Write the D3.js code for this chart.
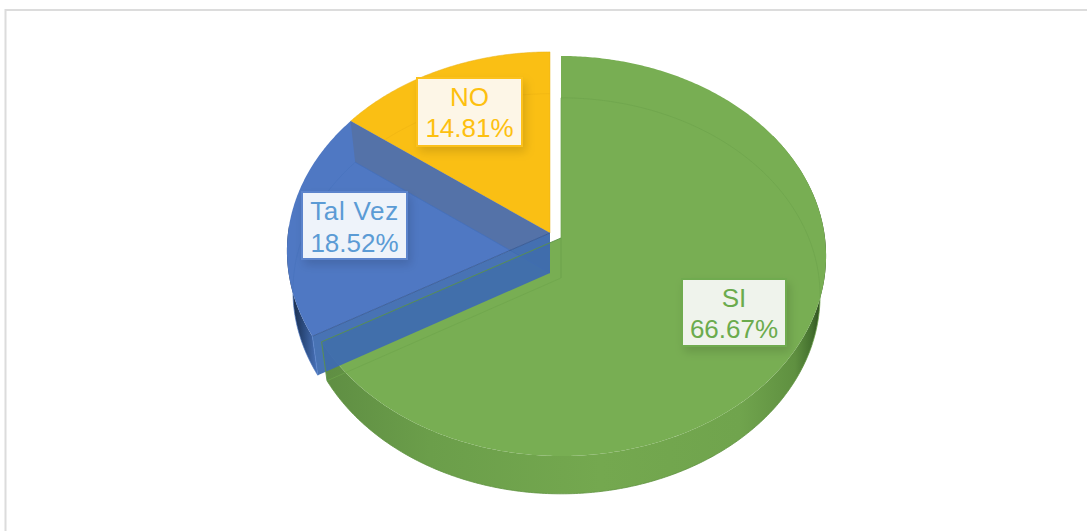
<!DOCTYPE html>
<html><head><meta charset="utf-8">
<script src="https://cdn.jsdelivr.net/npm/d3@7/dist/d3.min.js"></script>
<style>html,body{margin:0;padding:0;background:#fff}svg{display:block}text{font-family:"Liberation Sans",Arial,sans-serif}</style>
</head><body><div id="c"></div>
<script>
const categories = ["SI", "Tal Vez", "NO"];
const values = [66.67, 18.52, 14.81];
const colors = ["#78ae53", "#4f78c3", "#fabf14"];
const textColors = ["#6bab4d", "#5b9bd5", "#fdc010"];
const boxFills = ["#eff3ec", "#eef3fa", "#fdf6e7"];
const boxStrokes = ["#70ab50", "#5c84cc", "#fcc11f"];

const W = 1087, H = 531;
const svg = d3.select("#c").append("svg").attr("width", W).attr("height", H);
const defs = svg.append("defs");
const f = defs.append("filter").attr("id","sh").attr("x","-25%").attr("y","-25%").attr("width","150%").attr("height","160%");
f.append("feDropShadow").attr("dx",3).attr("dy",5).attr("stdDeviation",5).attr("flood-color","#000").attr("flood-opacity",0.13);

function grad(id, x1, x2, stops){
  const g = defs.append("linearGradient").attr("id",id).attr("gradientUnits","userSpaceOnUse")
    .attr("x1",x1).attr("x2",x2).attr("y1",0).attr("y2",0);
  stops.forEach(s=>g.append("stop").attr("offset",(s[0]-x1)/(x2-x1)).attr("stop-color",s[1]));
}
grad("gw",325,824,[[325,"#5f8e43"],[430,"#6b9e4a"],[600,"#74a84f"],[740,"#70a44d"],[795,"#5f9040"],[812,"#44702e"],[824,"#26401a"]]);
grad("bw",292,322,[[292,"#1a2c4a"],[304,"#2c4c80"],[318,"#4a74bd"]]);

// frame
svg.append("path").attr("d",`M5.5 ${H} V10 H${W}`).attr("fill","none").attr("stroke","#dcdcdc").attr("stroke-width",2);

// perspective projection of the pie disc
const k = -0.09;
const topFace = {d:264, b:198.4, dy:0};
const floorFace = {d:258, b:196.4, dy:40};
const topFaceX = {d:262, b:197.4, dy:0};
const floorFaceX = {d:256, b:195.4, dy:40};
const project = (a, face, o) => {
  const u = Math.sin(a), v = -Math.cos(a), q = 1 + k*v;
  return [o[0] + face.d*u/q, o[1] + face.dy + face.b*v/q];
};
const line = d3.line();
const arcPts = (a0, a1, face, o) => {
  const n = Math.max(2, Math.ceil(Math.abs(a1-a0)/0.01));
  return d3.range(n+1).map(i => project(a0+(a1-a0)*i/n, face, o));
};
const apex = (face,o) => [o[0], o[1]+face.dy];
const sector = (p, face, o) => line([apex(face,o), ...arcPts(p.startAngle,p.endAngle,face,o)]) + "Z";
const wall = (a0,a1,o,tf,ff) => line([...arcPts(a0,a1,tf,o), ...arcPts(a1,a0,ff,o)]) + "Z";
const radial = (a,o,tf,ff) => line([apex(tf,o), project(a,tf,o), project(a,ff,o), apex(ff,o)]) + "Z";
const stroke = (d,c,w) => svg.append("path").attr("d",d).attr("fill","none").attr("stroke",c).attr("stroke-width",w);

const pie = d3.pie().sort(null)(values);
const [si, tal, no] = pie;
const O0 = [561,238], O1 = [550,233];

// NO slice
svg.append("path").attr("d",sector(no,topFaceX,O1)).attr("fill",colors[2]).attr("stroke","#e6b018").attr("stroke-width",0.5);
stroke(line(arcPts(no.startAngle,no.endAngle,floorFaceX,O1)),"#efb512",0.7);
stroke(line([apex(floorFaceX,O1),project(no.startAngle,floorFaceX,O1)]),"#e8b014",0.5);

// SI slice
svg.append("path").attr("d",wall(1.0,si.endAngle,O0,topFace,floorFace)).attr("fill","url(#gw)");
svg.append("path").attr("d",sector(si,topFace,O0)).attr("fill",colors[0]);
stroke(line(arcPts(si.startAngle,1.9,floorFace,O0)),"#6ea44c",0.8);
stroke(line(arcPts(1.9,si.endAngle,floorFace,O0)),"#5f9340",0.8);
stroke(line([project(si.startAngle,floorFace,O0),apex(floorFace,O0),project(si.endAngle,floorFace,O0)]),"#6ea54c",0.7);
stroke(line([apex(topFace,O0),apex(floorFace,O0)]),"#70a74d",0.7);

// Tal Vez slice
svg.append("path").attr("d",wall(tal.startAngle,4.75,O1,topFaceX,floorFaceX)).attr("fill","url(#bw)");
svg.append("path").attr("d",sector(tal,topFaceX,O1)).attr("fill",colors[1]);
svg.append("path").attr("d",radial(no.startAngle,O1,topFaceX,floorFaceX)).attr("fill","#5a6a88").attr("fill-opacity",0.45);
stroke(line(arcPts(tal.startAngle,tal.endAngle,floorFaceX,O1)),"#4873bd",0.7);
stroke(line([project(tal.endAngle,floorFaceX,O1),apex(floorFaceX,O1)]),"#4470bb",0.8);
svg.append("path").attr("d",radial(tal.startAngle,O1,topFaceX,floorFaceX)).attr("fill","#3e6cb0").attr("fill-opacity",0.95);
stroke(line([project(tal.startAngle,topFaceX,O1),apex(topFaceX,O1)]),"#34568f",0.8);
stroke(line([project(tal.startAngle,topFaceX,O1),project(tal.startAngle,floorFaceX,O1)]),"#5b84cc",0.8);

// SI front edge seen through the blue wall
stroke(line([apex(topFace,O0),project(si.endAngle,topFace,O0),project(si.endAngle,floorFace,O0)]),"#5a9248",0.9);

// labels
const boxes = [
  {x:682,y:279,w:104,h:67,b1:307,b2:338,ls:0},
  {x:302,y:192,w:105,h:67,b1:220,b2:252,ls:0.7},
  {x:417,y:78,w:105,h:68,b1:106,b2:137,ls:0}
];
const fmt = d3.format(".2f");
boxes.forEach((b,i)=>{
  const g = svg.append("g");
  g.append("rect").attr("x",b.x).attr("y",b.y).attr("width",b.w).attr("height",b.h)
    .attr("fill",boxFills[i]).attr("stroke",boxStrokes[i]).attr("stroke-width",2).attr("filter","url(#sh)");
  const cx = b.x+b.w/2;
  g.append("text").attr("x",cx).attr("y",b.b1).attr("text-anchor","middle").attr("font-size",26).attr("letter-spacing",b.ls).attr("fill",textColors[i]).text(categories[i]);
  g.append("text").attr("x",cx).attr("y",b.b2).attr("text-anchor","middle").attr("font-size",26).attr("fill",textColors[i]).text(fmt(values[i])+"%");
});
</script></body></html>
